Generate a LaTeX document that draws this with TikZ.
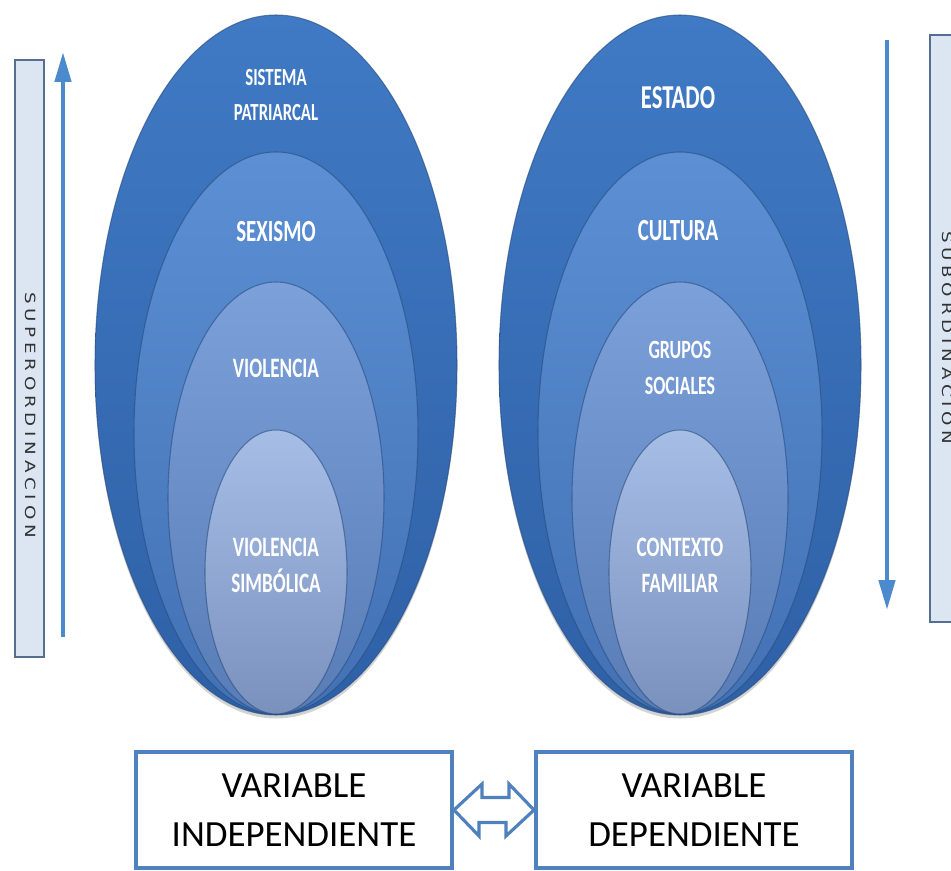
\documentclass[tikz,border=0pt]{standalone}
\usepackage{fontspec}
\setmainfont{Carlito}
\newfontfamily\ringfont[FakeStretch=0.68]{Carlito}
\newfontfamily\barfont[FakeStretch=1.3,LetterSpace=34]{DejaVu Sans}
\usetikzlibrary{arrows.meta,shadows}

\definecolor{ringAtop}{RGB}{64,122,196}
\definecolor{ringAbot}{RGB}{46,96,166}
\definecolor{ringBtop}{RGB}{92,143,212}
\definecolor{ringBbot}{RGB}{66,113,180}
\definecolor{ringCtop}{RGB}{124,160,218}
\definecolor{ringCbot}{RGB}{88,124,182}
\definecolor{ringDtop}{RGB}{166,190,230}
\definecolor{ringDbot}{RGB}{122,145,190}
\definecolor{ringline}{RGB}{40,75,125}
\definecolor{barfill}{RGB}{220,230,242}
\definecolor{barline}{RGB}{85,110,145}
\definecolor{bartext}{RGB}{50,50,50}
\definecolor{arrowblue}{RGB}{75,138,205}
\definecolor{boxline}{RGB}{79,129,189}

\tikzstyle{ring}=[draw=ringline, draw opacity=0.6, line width=0.6pt]
\tikzstyle{ringA}=[ring, top color=ringAtop, bottom color=ringAbot, drop shadow={shadow xshift=0pt, shadow yshift=-2pt, opacity=0.35}]
\tikzstyle{ringB}=[ring, top color=ringBtop, bottom color=ringBbot]
\tikzstyle{ringC}=[ring, top color=ringCtop, bottom color=ringCbot]
\tikzstyle{ringD}=[ring, top color=ringDtop, bottom color=ringDbot]
\tikzstyle{tag}=[text=white, align=center, inner sep=0pt]
\tikzstyle{sidebar}=[draw=barline, fill=barfill, line width=1.2pt]
\tikzstyle{sidetext}=[text=bartext, font=\barfont\fontsize{8}{9}\selectfont, rotate=-90, inner sep=0pt]
\tikzstyle{level}=[draw=arrowblue, line width=2.6pt, -{Triangle[length=0.6cm,width=0.32cm]}]
\tikzstyle{varbox}=[draw=boxline, line width=2.3pt, minimum width=6.32cm, minimum height=2.32cm, align=center, font=\fontsize{21}{28}\selectfont]
\tikzstyle{linkarrow}=[draw=boxline, line width=1.8pt, fill=white, line join=miter]

\begin{document}
\begin{tikzpicture}[x=0.02cm, y=0.02cm]
\useasboundingbox (0,0) rectangle (951,870);

% left target
\draw[ringA] (276,505) ellipse (181 and 350);
\draw[ringB] (276,437) ellipse (142 and 281);
\draw[ringC] (276,372) ellipse (108 and 216);
\draw[ringD] (276,298) ellipse (71 and 142);

\node[tag, font=\ringfont\bfseries\fontsize{14}{20}\selectfont] (patriarcal) at (276,775) {SISTEMA\\PATRIARCAL};
\node[tag, font=\ringfont\bfseries\fontsize{17.5}{20}\selectfont] (sexismo) at (276,638) {SEXISMO};
\node[tag, font=\ringfont\bfseries\fontsize{16}{20}\selectfont] (violencia) at (276,502) {VIOLENCIA};
\node[tag, font=\ringfont\bfseries\fontsize{16}{20.5}\selectfont] (simbolica) at (276,305) {VIOLENCIA\\SIMBÓLICA};

% right target
\draw[ringA] (680,505) ellipse (181 and 350);
\draw[ringB] (680,437) ellipse (142 and 281);
\draw[ringC] (680,372) ellipse (108 and 216);
\draw[ringD] (680,298) ellipse (71 and 142);

\node[tag, font=\ringfont\bfseries\fontsize{19}{20}\selectfont] (estado) at (678,772) {ESTADO};
\node[tag, font=\ringfont\bfseries\fontsize{17.5}{20}\selectfont] (cultura) at (678,639) {CULTURA};
\node[tag, font=\ringfont\bfseries\fontsize{15}{21}\selectfont] (grupos) at (680,502) {GRUPOS\\SOCIALES};
\node[tag, font=\ringfont\bfseries\fontsize{16}{20.5}\selectfont] (familiar) at (680,305) {CONTEXTO\\FAMILIAR};

% side bars
\draw[sidebar] (15,213) rectangle (44,810);
\node[sidetext] (superord) at (31,455) {SUPERORDINACION};
\coordinate (upfrom) at (63,233);
\coordinate (upto) at (63,818);
\draw[level] (upfrom) -- (upto);

\draw[sidebar] (930,248) rectangle (975,835);
\node[sidetext] (subord) at (948,532) {SUBORDINACION};
\coordinate (downfrom) at (887,830);
\coordinate (downto) at (887,260);
\draw[level] (downfrom) -- (downto);

% variables
\node[varbox] (indep) at (294,60) {VARIABLE\\INDEPENDIENTE};
\node[varbox] (dep) at (694,60) {VARIABLE\\DEPENDIENTE};
\draw[linkarrow] (indep.east) -- ++(28,26) -- ++(0,-13.5) -- ++(27,0) -- ++(0,13.5)
  -- (dep.west) -- ++(-28,-26) -- ++(0,13.5) -- ++(-27,0) -- ++(0,-13.5) -- cycle;
\end{tikzpicture}
\end{document}
